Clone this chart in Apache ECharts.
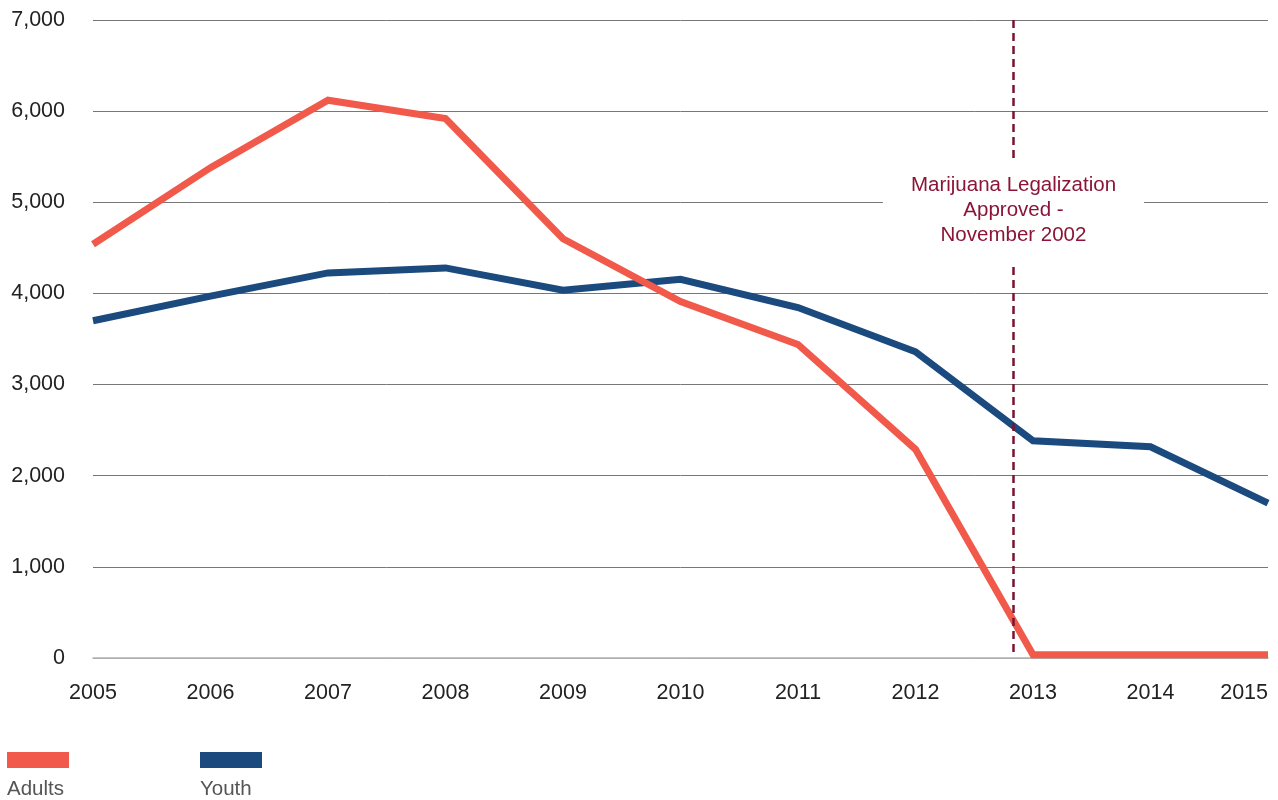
<!DOCTYPE html>
<html>
<head>
<meta charset="utf-8">
<script src="https://cdn.jsdelivr.net/npm/echarts@6/dist/echarts.min.js"></script>
<style>
html,body{margin:0;padding:0;background:#fff;}
#chart{width:1278px;height:800px;}
</style>
</head>
<body>
<div id="chart"></div>
<script>
const years = [2005, 2006, 2007, 2008, 2009, 2010, 2011, 2012, 2013, 2014, 2015];
const adults = [4540, 5380, 6120, 5920, 4600, 3910, 3440, 2290, 35, 35, 35];
const youth = [3700, 3970, 4225, 4280, 4035, 4155, 3845, 3360, 2383, 2317, 1700];
const yTicks = [0, 1000, 2000, 3000, 4000, 5000, 6000, 7000];
const legalizationX = 2012.834;
const annotationY = 4910;
const annotationText = 'Marijuana Legalization\nApproved -\nNovember 2002';

const FONT = '"Liberation Sans", Arial, sans-serif';
const chart = echarts.init(document.getElementById('chart'), null, {renderer: 'canvas'});

const pairs = arr => years.map((y, i) => [y, arr[i]]);

chart.setOption({
  animation: false,
  backgroundColor: '#ffffff',
  grid: {left: 93, right: 10, top: 20, bottom: 142, containLabel: false, outerBoundsMode: 'none'},
  legend: [
    {data: ['Adults'], left: 7, top: 752, padding: 0, icon: 'rect', itemWidth: 62, itemHeight: 16, formatter: () => '', selectedMode: false},
    {data: ['Youth'], left: 200, top: 752, padding: 0, icon: 'rect', itemWidth: 62, itemHeight: 16, formatter: () => '', selectedMode: false},
    {data: ['Adults'], left: 2, top: 779, padding: 0, icon: 'rect', itemWidth: 0, itemHeight: 0, selectedMode: false,
     textStyle: {fontFamily: FONT, fontSize: 20.5, color: '#555'}},
    {data: ['Youth'], left: 195, top: 779, padding: 0, icon: 'rect', itemWidth: 0, itemHeight: 0, selectedMode: false,
     textStyle: {fontFamily: FONT, fontSize: 20.5, color: '#555'}}
  ],
  xAxis: {
    type: 'value',
    min: years[0],
    max: years[years.length - 1],
    interval: 1,
    axisLine: {show: true, lineStyle: {color: '#b0b0b0', width: 1.5}},
    axisTick: {show: false},
    splitLine: {show: false},
    axisLabel: {
      fontFamily: FONT, fontSize: 21.5, color: '#222', margin: 24,
      alignMaxLabel: 'right',
      formatter: v => String(v)
    }
  },
  yAxis: {
    type: 'value',
    min: yTicks[0],
    max: yTicks[yTicks.length - 1],
    interval: 1000,
    axisLine: {show: false},
    axisTick: {show: false},
    splitLine: {show: true, lineStyle: {color: ['#b0b0b0', '#777', '#777', '#777', '#777', '#777', '#777', '#777'], width: 1}},
    axisLabel: {fontFamily: FONT, fontSize: 21.5, color: '#222', margin: 28}
  },
  series: [
    {
      name: 'Adults',
      type: 'line',
      data: pairs(adults),
      showSymbol: false,
      symbol: 'none',
      color: '#f15a4a',
      lineStyle: {width: 7, color: '#f15a4a', cap: 'butt', join: 'miter'},
      z: 3,
      markLine: {
        silent: true,
        symbol: ['none', 'none'],
        label: {show: false},
        lineStyle: {color: '#7b1430', width: 2.5, type: [8, 5]},
        data: [[{coord: [legalizationX, yTicks[yTicks.length - 1]]}, {coord: [legalizationX, 30]}]],
        z: 4
      }
    },
    {
      name: 'Youth',
      type: 'line',
      data: pairs(youth),
      showSymbol: false,
      symbol: 'none',
      color: '#1b4a7e',
      lineStyle: {width: 7, color: '#1b4a7e', cap: 'butt', join: 'miter'},
      z: 2,
      markPoint: {
        silent: true,
        symbol: 'rect',
        symbolSize: 0,
        z: 10,
        data: [{coord: [legalizationX, annotationY], value: 0}],
        label: {
          show: true,
          position: 'inside',
          formatter: () => annotationText,
          fontFamily: FONT,
          fontSize: 20.5,
          lineHeight: 25,
          color: '#8a1538',
          align: 'center',
          backgroundColor: '#ffffff',
          padding: [14, 28, 14, 28]
        }
      }
    }
  ]
});
</script>
</body>
</html>
